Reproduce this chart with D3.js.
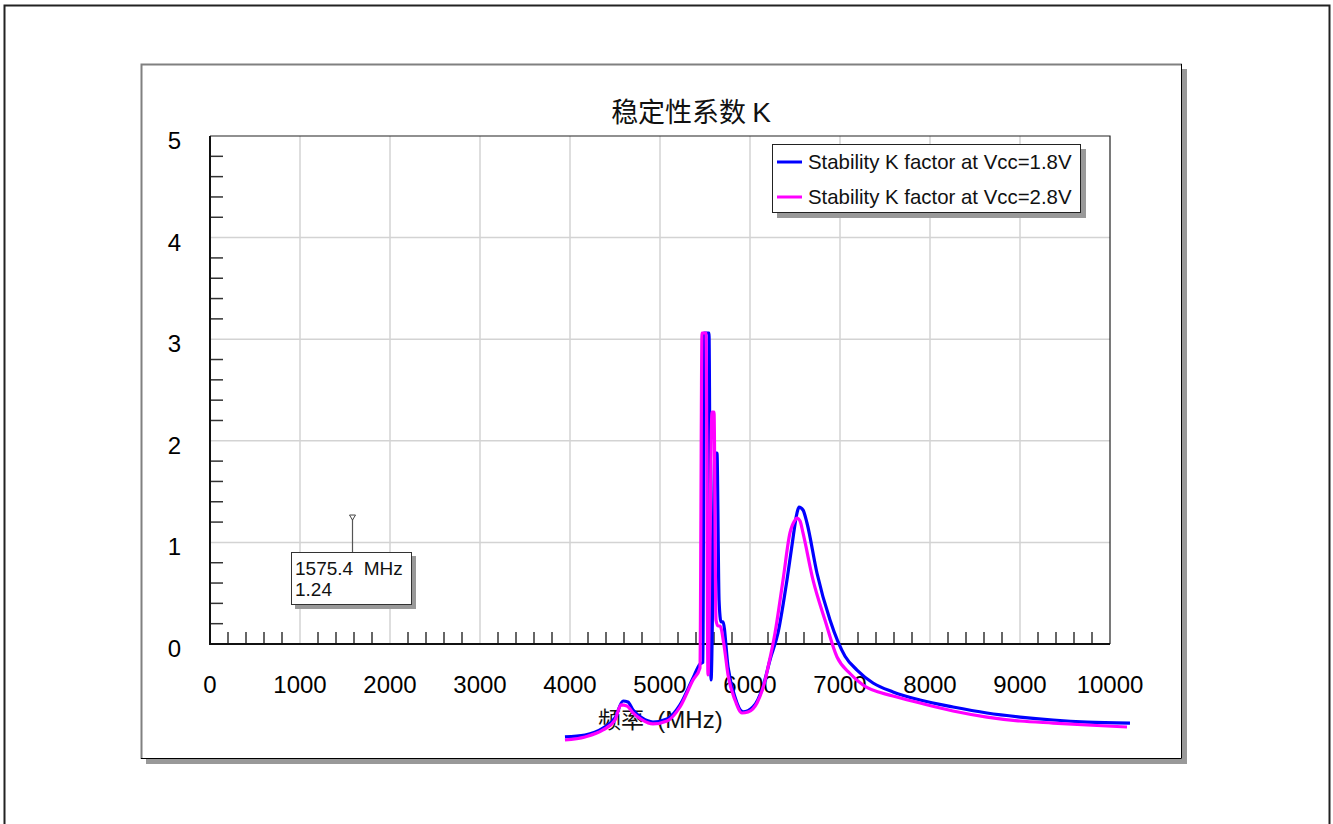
<!DOCTYPE html>
<html>
<head>
<meta charset="utf-8">
<script src="https://cdn.jsdelivr.net/npm/d3@7"></script>
<style>
  body { margin: 0; background: #fff; }
  svg { display: block; font-family: "Liberation Sans", Arial, sans-serif; }
</style>
</head>
<body>
<div id="chart"></div>
<script>
// Stability K factor
const freq18 = [3944, 4167, 4367, 4500, 4589, 4644, 4700, 4800, 4922, 5078, 5222, 5367, 5444, 5478,
    5489, 5544, 5567, 5611, 5633, 5656, 5678, 5700, 5756, 5833, 5922, 6033, 6144, 6222, 6311, 6411,
    6467, 6522, 6544, 6589, 6633, 6744, 6889, 7056, 7189, 7367, 7589, 7889, 8256, 8633, 9000, 9367,
    9744, 10222];
const k18 = [-0.915, -0.896, -0.827, -0.728, -0.561, -0.571, -0.650, -0.728, -0.768, -0.738, -0.600, -0.335, -0.197, -0.18,
    3.061, 3.061, -0.354, 1.880, 1.880, 0.433, 0.217, 0.217, -0.226, -0.522, -0.669, -0.620, -0.420, -0.157, 0.108, 0.630,
    0.974, 1.289, 1.348, 1.319, 1.191, 0.699, 0.236, -0.120, -0.256, -0.384, -0.472, -0.551, -0.620, -0.679, -0.719, -0.748,
    -0.768, -0.778];

const freq28 = [3944, 4167, 4367, 4500, 4567, 4633, 4700, 4800, 4922, 5078, 5222, 5367, 5444,
    5467, 5511, 5533, 5578, 5600, 5622, 5644, 5667, 5711, 5756, 5833, 5911, 5978, 6078, 6167, 6200,
    6278, 6367, 6444, 6500, 6522, 6556, 6589, 6700, 6833, 6967, 7111, 7256, 7589, 7889, 8256, 8633,
    9000, 9367, 9744, 10189];
const k28 = [-0.945, -0.915, -0.846, -0.748, -0.600, -0.610, -0.679, -0.748, -0.787, -0.758, -0.620, -0.354, -0.236,
    3.061, 3.061, -0.305, 2.283, 2.283, 0.236, 0.177, 0.177, -0.010, -0.305, -0.551, -0.679, -0.669, -0.580, -0.360, -0.230,
    0.108, 0.630, 1.093, 1.220, 1.240, 1.211, 1.093, 0.630, 0.236, -0.128, -0.290, -0.404, -0.512, -0.581, -0.659, -0.719,
    -0.758, -0.778, -0.797, -0.817];

const xTicks = [0, 1000, 2000, 3000, 4000, 5000, 6000, 7000, 8000, 9000, 10000];
const yTicks = [0, 1, 2, 3, 4, 5];
const seriesNames = ["Stability K factor at Vcc=1.8V", "Stability K factor at Vcc=2.8V"];
const seriesColors = ["#0000ff", "#ff00ff"];
const markerFreq = 1575.4;
const markerK = 1.24;

const W = 1333, H = 824;
const plot = { left: 210, right: 1110, top: 136, bottom: 644 };
const cjk = "'Noto Sans CJK SC', sans-serif";

const svg = d3.select("#chart").append("svg")
    .attr("width", W)
    .attr("height", H);

// outer frame
svg.append("rect")
    .attr("x", 4.5).attr("y", 5.5)
    .attr("width", 1325).attr("height", 840)
    .attr("fill", "#fff")
    .attr("stroke", "#222")
    .attr("stroke-width", 2);

// panel with shadow
svg.append("rect")
    .attr("x", 146).attr("y", 69)
    .attr("width", 1041).attr("height", 695)
    .attr("fill", "#999");
svg.append("rect")
    .attr("x", 141).attr("y", 64)
    .attr("width", 1041).attr("height", 695)
    .attr("fill", "#fff");
svg.append("path")
    .attr("d", "M141.5,759 V64.5 H1182")
    .attr("fill", "none").attr("stroke", "#808080").attr("stroke-width", 2);
svg.append("path")
    .attr("d", "M141,758.5 H1181.5 V64")
    .attr("fill", "none").attr("stroke", "#000").attr("stroke-width", 1);

const x = d3.scaleLinear().domain([0, 10000]).range([plot.left, plot.right]);
const y = d3.scaleLinear().domain([0, 5]).range([plot.bottom, plot.top]);

// grid
const grid = svg.append("g").attr("stroke", "#d3d3d3").attr("stroke-width", 1.5);
grid.selectAll(".gx")
    .data(xTicks.slice(1, -1))
    .join("line")
    .attr("x1", d => x(d)).attr("x2", d => x(d))
    .attr("y1", plot.top).attr("y2", plot.bottom);
grid.selectAll(".gy")
    .data(yTicks.slice(1, -1))
    .join("line")
    .attr("x1", plot.left).attr("x2", plot.right)
    .attr("y1", d => y(d)).attr("y2", d => y(d));

// minor ticks
const xMinor = d3.range(200, 10000, 200).filter(d => d % 1000 !== 0);
const yMinor = d3.range(0.2, 5, 0.2).filter(d => Math.abs(d - Math.round(d)) > 0.01);

svg.append("g")
    .attr("stroke", "#333").attr("stroke-width", 1.5)
    .selectAll("line")
    .data(xMinor)
    .join("line")
    .attr("x1", d => x(d)).attr("x2", d => x(d))
    .attr("y1", plot.bottom).attr("y2", plot.bottom - 12);

svg.append("g")
    .attr("stroke", "#333").attr("stroke-width", 1.5)
    .selectAll("line")
    .data(yMinor)
    .join("line")
    .attr("x1", plot.left).attr("x2", plot.left + 13)
    .attr("y1", d => y(d)).attr("y2", d => y(d));

// plot border
svg.append("path")
    .attr("d", `M${plot.left},${plot.top} H${plot.right} V${plot.bottom}`)
    .attr("fill", "none").attr("stroke", "#222").attr("stroke-width", 1.2);
svg.append("path")
    .attr("d", `M${plot.left},${plot.top} V${plot.bottom} H${plot.right}`)
    .attr("fill", "none").attr("stroke", "#111").attr("stroke-width", 2);

// tick labels
svg.append("g")
    .selectAll("text")
    .data(yTicks)
    .join("text")
    .attr("x", 181)
    .attr("y", d => y(d) + 13)
    .attr("text-anchor", "end")
    .attr("font-size", 24)
    .attr("fill", "#000")
    .text(d => d);

svg.append("g")
    .selectAll("text")
    .data(xTicks)
    .join("text")
    .attr("x", d => x(d))
    .attr("y", 693)
    .attr("text-anchor", "middle")
    .attr("font-size", 24)
    .attr("fill", "#000")
    .text(d => d);

// title + axis label (CJK part in Noto, latin part in Liberation Sans)
const title = svg.append("text")
    .attr("x", 691)
    .attr("y", 122)
    .attr("text-anchor", "middle")
    .attr("fill", "#111")
    .style("white-space", "pre");
title.append("tspan").attr("font-family", cjk).attr("font-size", 27).text("稳定性系数 ");
title.append("tspan").attr("font-size", 28).text("K");

const xLabel = svg.append("text")
    .attr("x", 598)
    .attr("y", 728)
    .attr("fill", "#111")
    .style("white-space", "pre");
xLabel.append("tspan").attr("font-family", cjk).attr("font-size", 23).text("频率");
xLabel.append("tspan").attr("font-size", 24).text("  (MHz)");

// curves (not clipped, they run below the axis as in the original)
const series = [
    freq18.map((f, i) => [f, k18[i]]),
    freq28.map((f, i) => [f, k28[i]])
];
const line = d3.line()
    .x(d => x(d[0]))
    .y(d => y(d[1]))
    .curve(d3.curveMonotoneX);

svg.append("g")
    .selectAll("path")
    .data(series)
    .join("path")
    .attr("d", line)
    .attr("fill", "none")
    .attr("stroke", (d, i) => seriesColors[i])
    .attr("stroke-width", 3.2)
    .attr("stroke-linejoin", "round");

// legend
const lg = svg.append("g");
lg.append("rect").attr("x", 777).attr("y", 149).attr("width", 309).attr("height", 69).attr("fill", "#999");
lg.append("rect").attr("x", 772.5).attr("y", 144.5).attr("width", 308).attr("height", 68)
    .attr("fill", "#fff").attr("stroke", "#222").attr("stroke-width", 1);
const rows = lg.selectAll(".row")
    .data(seriesNames)
    .join("g")
    .attr("transform", (d, i) => `translate(0, ${162 + i * 35})`);
rows.append("line")
    .attr("x1", 777).attr("x2", 802)
    .attr("stroke", (d, i) => seriesColors[i])
    .attr("stroke-width", 3);
rows.append("text")
    .attr("x", 808)
    .attr("y", 7)
    .attr("font-size", 20.4)
    .attr("fill", "#111")
    .text(d => d);

// marker annotation
const mx = Math.round(x(markerFreq)) + 0.5;
const my = y(markerK);
svg.append("line")
    .attr("x1", mx).attr("x2", mx)
    .attr("y1", my).attr("y2", 552)
    .attr("stroke", "#555").attr("stroke-width", 1.2);
svg.append("path")
    .attr("d", `M${mx - 3},${my - 3} L${mx + 3},${my - 3} L${mx},${my + 2} Z`)
    .attr("fill", "#fff").attr("stroke", "#444").attr("stroke-width", 1);
svg.append("rect").attr("x", 295).attr("y", 556).attr("width", 121).attr("height", 53).attr("fill", "#999");
svg.append("rect").attr("x", 291.5).attr("y", 552.5).attr("width", 120).attr("height", 52)
    .attr("fill", "#fff").attr("stroke", "#333").attr("stroke-width", 1);
svg.append("text")
    .attr("x", 295).attr("y", 575)
    .attr("font-size", 19)
    .attr("fill", "#111")
    .style("white-space", "pre")
    .text(`${markerFreq}  MHz`);
svg.append("text")
    .attr("x", 295).attr("y", 596)
    .attr("font-size", 19)
    .attr("fill", "#111")
    .text(markerK.toFixed(2));
</script>
</body>
</html>
